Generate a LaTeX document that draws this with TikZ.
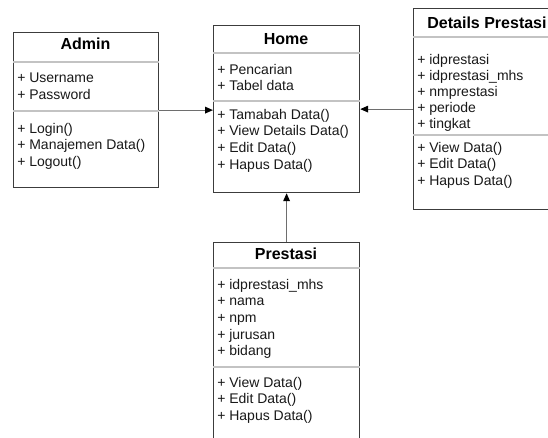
\documentclass[tikz,border=0pt]{standalone}
\usepackage{fontspec}
\setmainfont{Liberation Sans}
\usetikzlibrary{arrows.meta}
\definecolor{boxgray}{RGB}{60,60,60}
\definecolor{sepgray}{RGB}{195,195,195}
\definecolor{linegray}{RGB}{110,110,110}
\definecolor{txtgray}{RGB}{25,25,25}
\tikzset{
  classbox/.style={draw=boxgray, line width=0.9pt, inner sep=0pt, anchor=north west, fill=white},
  classname/.style={inner sep=0pt, text=black, font=\bfseries\fontsize{12}{14}\selectfont},
  members/.style={anchor=north west, inner sep=0pt, align=left, text=txtgray, font=\fontsize{10.5}{12.4}\selectfont},
  divider/.style={draw=sepgray, line width=0.8pt},
  assoc/.style={draw=linegray, line width=0.9pt, -{Triangle[black, length=6pt, width=5pt]}}
}
\begin{document}
\begin{tikzpicture}[x=0.75pt,y=0.75pt,yscale=-1,xscale=1]
\useasboundingbox (0,0) rectangle (548,437);
\clip (0,0) rectangle (548,437);
\fill[white] (0,0) rectangle (548,437);
% Admin
\node (admin) [classbox, minimum width=108.75pt, minimum height=116.25pt] at (13,32) {};
\node (admin-name) [classname] at (85.5,43.5) {Admin};
\draw[divider] (admin.west |- 0,62) -- (admin.east |- 0,62);
\draw[divider] (admin.west |- 0,111) -- (admin.east |- 0,111);
\node (admin-attr) [members] at (17,73) {+ Username\\+ Password};
\node (admin-op) [members] at (17,123) {+ Login()\\+ Manajemen Data()\\+ Logout()};
% Home
\node (home) [classbox, minimum width=109.5pt, minimum height=125.25pt] at (213,25) {};
\node (home-name) [classname] at (286,39) {Home};
\draw[divider] (home.west |- 0,53) -- (home.east |- 0,53);
\draw[divider] (home.west |- 0,101) -- (home.east |- 0,101);
\node (home-attr) [members] at (217,64) {+ Pencarian\\+ Tabel data};
\node (home-op) [members] at (217,109) {+ Tamabah Data()\\+ View Details Data()\\+ Edit Data()\\+ Hapus Data()};
% Details Prestasi
\node (details) [classbox, minimum width=111pt, minimum height=150.75pt] at (413,8) {};
\node (details-name) [classname] at (487,22.5) {Details Prestasi};
\draw[divider] (details.west |- 0,37) -- (details.east |- 0,37);
\draw[divider] (details.west |- 0,135) -- (details.east |- 0,135);
\node (details-attr) [members, font=\fontsize{10.5}{12}\selectfont] at (417,54) {+ idprestasi\\+ idprestasi\_mhs\\+ nmprestasi\\+ periode\\+ tingkat};
\node (details-op) [members] at (417,142) {+ View Data()\\+ Edit Data()\\+ Hapus Data()};
% Prestasi
\node (prestasi) [classbox, minimum width=109.5pt, minimum height=161.25pt] at (213,242) {};
\node (prestasi-name) [classname] at (286,254) {Prestasi};
\draw[divider] (prestasi.west |- 0,268) -- (prestasi.east |- 0,268);
\draw[divider] (prestasi.west |- 0,367) -- (prestasi.east |- 0,367);
\node (prestasi-attr) [members] at (217,279) {+ idprestasi\_mhs\\+ nama\\+ npm\\+ jurusan\\+ bidang};
\node (prestasi-op) [members] at (217,377) {+ View Data()\\+ Edit Data()\\+ Hapus Data()};
% relations
\draw[assoc] (admin.east) -- (admin.east -| home.west);
\draw[assoc] (details.west) -- (details.west -| home.east);
\draw[assoc] (prestasi.north) -- (home.south);
\end{tikzpicture}
\end{document}
